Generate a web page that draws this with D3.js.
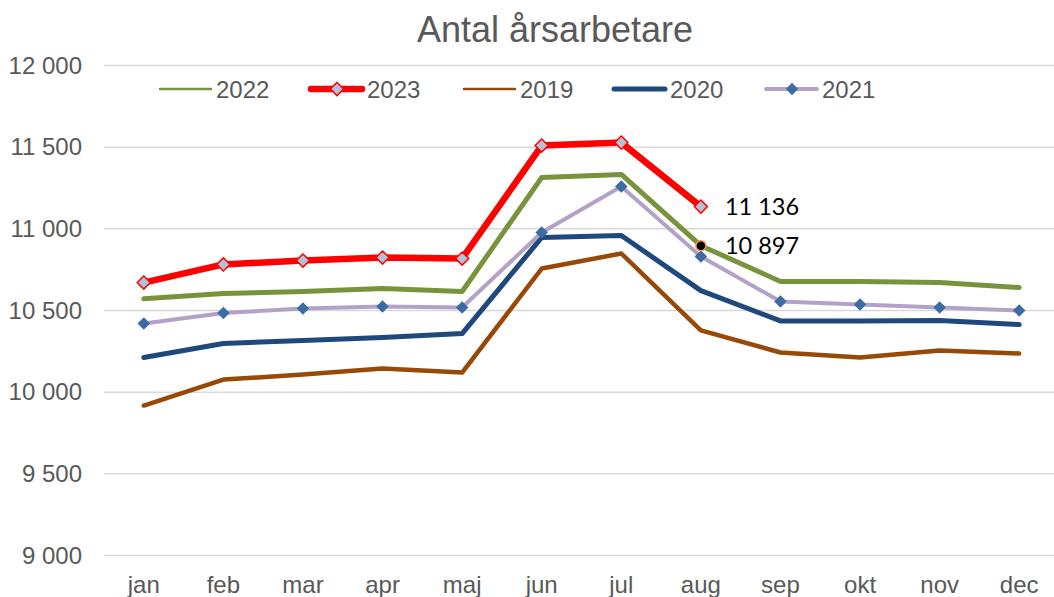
<!DOCTYPE html>
<html>
<head>
<meta charset="utf-8">
<style>
body { margin: 0; background: #fff; }
svg text { font-family: Arial, "Liberation Sans", sans-serif; }
</style>
</head>
<body>
<script src="https://cdn.jsdelivr.net/npm/d3@7"></script>
<script>

var months = ["jan", "feb", "mar", "apr", "maj", "jun", "jul", "aug", "sep", "okt", "nov", "dec"];
var yTicks = [9000, 9500, 10000, 10500, 11000, 11500, 12000];

var v2019 = [9918, 10077, 10108, 10145, 10120, 10757, 10849, 10378, 10243, 10212, 10255, 10237];
var v2020 = [10212, 10298, 10316, 10335, 10359, 10947, 10959, 10622, 10436, 10436, 10439, 10414];
var v2021 = [10420, 10485, 10512, 10524, 10518, 10978, 11259, 10831, 10555, 10537, 10518, 10500];
var v2022 = [10572, 10604, 10616, 10635, 10616, 11314, 11333, 10897, 10678, 10678, 10671, 10641];
var v2023 = [10671, 10782, 10806, 10824, 10818, 11510, 11528, 11136];

var labels = [
  {month: "aug", value: 11136, text: "11 136"},
  {month: "aug", value: 10897, text: "10 897"}
];

var width = 1054, height = 597;

var svg = d3.select("body").append("svg")
    .attr("width", width)
    .attr("height", height);

var x = d3.scaleBand()
    .domain(months)
    .range([104, 1059]);

var y = d3.scaleLinear()
    .domain([9000, 12000])
    .range([555.5, 65.5]);

function cx(m) { return x(m) + x.bandwidth() / 2; }

// title
svg.append("text")
    .attr("x", 555)
    .attr("y", 42)
    .attr("text-anchor", "middle")
    .style("font-size", "36px")
    .style("fill", "#595959")
    .text("Antal årsarbetare");

// gridlines
svg.append("g").selectAll("line")
    .data(yTicks)
  .enter().append("line")
    .attr("x1", 104)
    .attr("x2", width)
    .attr("y1", function(d) { return y(d); })
    .attr("y2", function(d) { return y(d); })
    .style("stroke", "#d9d9d9")
    .style("stroke-width", 1.5);

// y axis
var fmt = function(d) { return d3.format(",")(d).replace(",", " "); };
var yAxis = svg.append("g")
    .attr("transform", "translate(82,0)")
    .call(d3.axisLeft(y).tickValues(yTicks).tickFormat(fmt).tickSize(0).tickPadding(0));
yAxis.select(".domain").remove();
yAxis.selectAll("text")
    .style("font-size", "24px")
    .style("fill", "#595959")
    .style("font-family", "Arial, 'Liberation Sans', sans-serif");

// x axis
var xAxis = svg.append("g")
    .attr("transform", "translate(0,576)")
    .call(d3.axisBottom(x).tickSize(0).tickPadding(0));
xAxis.select(".domain").remove();
xAxis.selectAll("text")
    .attr("dy", "0.71em")
    .style("font-size", "24px")
    .style("fill", "#595959")
    .style("font-family", "Arial, 'Liberation Sans', sans-serif");

var series = [
  {name: "2019", values: v2019, color: "#984807", width: 4.5, legendWidth: 2.5},
  {name: "2020", values: v2020, color: "#1F497D", width: 5, legendWidth: 5},
  {name: "2021", values: v2021, color: "#B3A2C7", width: 4, legendWidth: 4, marker: "#3D6BA3", markerStroke: "#3D6BA3"},
  {name: "2022", values: v2022, color: "#77933C", width: 5, legendWidth: 2.5},
  {name: "2023", values: v2023, color: "#FF0000", width: 6.5, legendWidth: 6.5, marker: "#B4C1DA", markerStroke: "#FF0000"}
];

var line = d3.line()
    .x(function(d, i) { return cx(months[i]); })
    .y(function(d) { return y(d); });

var diamond = d3.symbol().type(d3.symbolDiamond2);

series.forEach(function(s) {
  svg.append("path")
      .datum(s.values)
      .attr("d", line)
      .style("fill", "none")
      .style("stroke", s.color)
      .style("stroke-width", s.width)
      .style("stroke-linejoin", "round")
      .style("stroke-linecap", "round");
  if (s.marker) {
    svg.append("g").selectAll("path")
        .data(s.values)
      .enter().append("path")
        .attr("transform", function(d, i) { return "translate(" + cx(months[i]) + "," + y(d) + ")"; })
        .attr("d", diamond.size(s.name === "2023" ? 110 : 100))
        .style("fill", s.marker)
        .style("stroke", s.markerStroke)
        .style("stroke-width", s.name === "2023" ? 1.5 : 0);
  }
});

// highlighted point on 2022 aug
svg.append("circle")
    .attr("cx", cx("aug"))
    .attr("cy", y(v2022[7]))
    .attr("r", 5)
    .style("fill", "#000")
    .style("stroke", "#F79646")
    .style("stroke-width", 1.5);

// data labels
svg.append("g").selectAll("text")
    .data(labels)
  .enter().append("text")
    .attr("x", function(d) { return cx(d.month) + 24; })
    .attr("y", function(d) { return y(d.value) + 8; })
    .style("font-family", "Lato, 'Open Sans', sans-serif")
    .style("font-size", "23.5px")
    .style("fill", "#000")
    .text(function(d) { return d.text; });

// legend
var legendOrder = ["2022", "2023", "2019", "2020", "2021"];
var legendX = [160, 311, 464, 614, 766];
var legend = svg.append("g").attr("transform", "translate(0,89)");
legendOrder.forEach(function(name, i) {
  var s = series.filter(function(d) { return d.name === name; })[0];
  var g = legend.append("g").attr("transform", "translate(" + legendX[i] + ",0)");
  g.append("line")
      .attr("x1", 0).attr("x2", 51)
      .style("stroke", s.color)
      .style("stroke-width", s.legendWidth)
      .style("stroke-linecap", "round");
  if (s.marker) {
    g.append("path")
        .attr("transform", "translate(26,0)")
        .attr("d", diamond.size(s.name === "2023" ? 110 : 100))
        .style("fill", s.marker)
        .style("stroke", s.markerStroke)
        .style("stroke-width", s.name === "2023" ? 1.5 : 0);
  }
  g.append("text")
      .attr("x", 56)
      .attr("y", 8.5)
      .style("font-size", "24px")
      .style("fill", "#595959")
      .text(name);
});

</script>
</body>
</html>
